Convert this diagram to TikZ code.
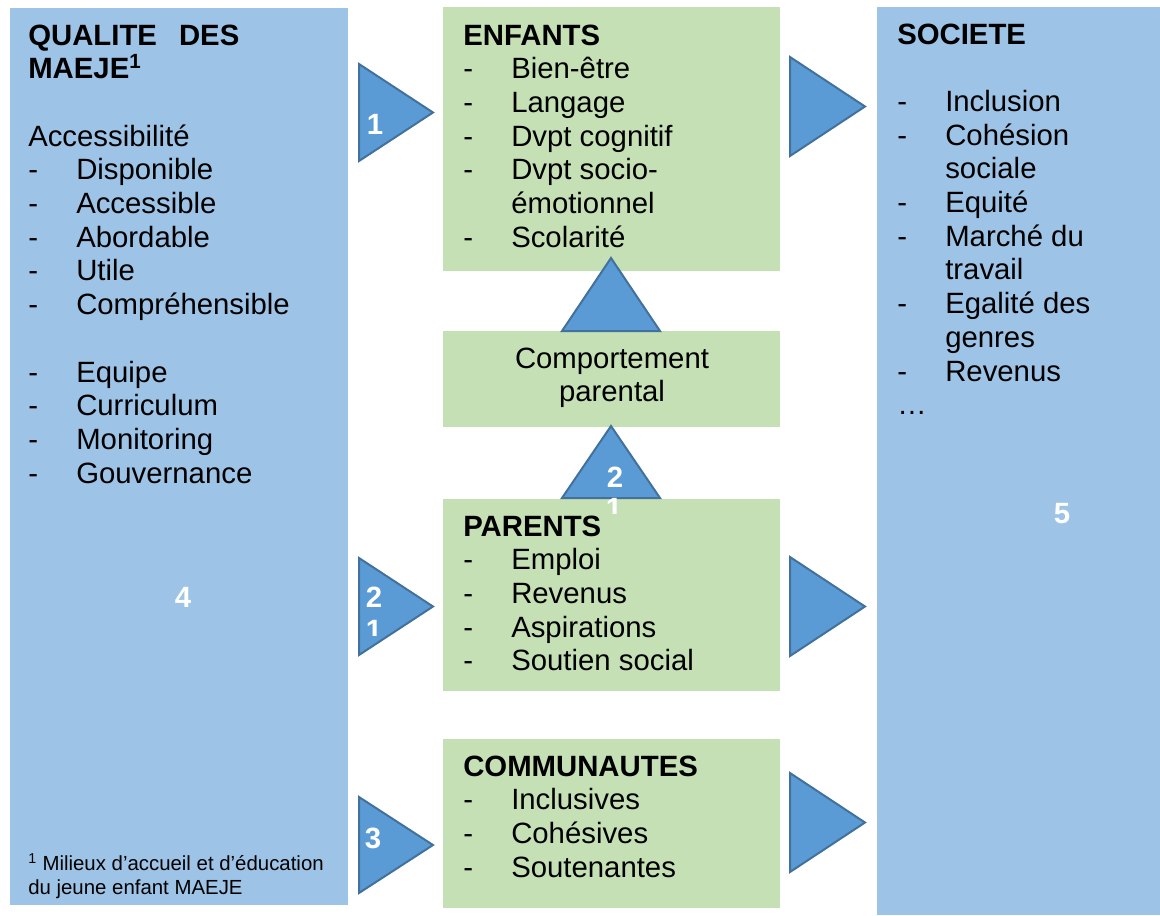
\documentclass[tikz,border=0pt]{standalone}
\usepackage{fontspec}
\setmainfont{Liberation Sans}
\definecolor{paneblue}{HTML}{9DC3E6}
\definecolor{panegreen}{HTML}{C5E0B4}
\definecolor{arrowfill}{HTML}{5B9BD5}
\definecolor{arrowline}{HTML}{41719C}
% list item: hyphen, then the text at a fixed indent
\newcommand\listitem[1]{\makebox[36pt][l]{-}#1}
\begin{document}
\begin{tikzpicture}[x=0.75pt,y=-0.75pt,
  pane/.style={rectangle, draw=none, inner sep=0pt},
  bluepane/.style={pane, fill=paneblue},
  greenpane/.style={pane, fill=panegreen},
  flow/.style={fill=arrowfill, draw=arrowline, line width=1.5pt, line join=miter},
  body/.style={font=\fontsize{22}{25.3}\selectfont, anchor=base west, inner sep=0pt},
  head/.style={body, font=\fontsize{22}{25.3}\selectfont\bfseries},
  num/.style={font=\fontsize{22}{25}\selectfont\bfseries, text=white, inner sep=0pt},
  note/.style={font=\fontsize{15.3}{18}\selectfont, anchor=base west, inner sep=0pt},
]
\useasboundingbox (0,0) rectangle (1160,915);

% panels
\node[bluepane, minimum width=253.5pt, minimum height=672.75pt] (quality) at (179,456.5) {};
\node[greenpane, minimum width=252.75pt, minimum height=198pt] (children) at (611.5,139) {};
\node[greenpane, minimum width=252.75pt, minimum height=72pt] (behaviour) at (611.5,379) {};
\node[greenpane, minimum width=252.75pt, minimum height=144pt] (parents) at (611.5,595) {};
\node[greenpane, minimum width=252.75pt, minimum height=126.75pt] (community) at (611.5,823.5) {};
\node[bluepane, minimum width=212.25pt, minimum height=681pt] (society) at (1018.5,461) {};

% triangular arrows, left column
\draw[flow] (359,64) -- (433,112.5) -- (359,161) -- cycle;
\draw[flow] (359,558) -- (433,606.5) -- (359,655) -- cycle;
\draw[flow] (359,797) -- (433,845) -- (359,893) -- cycle;
% triangular arrows, right column
\draw[flow] (790,57) -- (865,106.5) -- (790,156) -- cycle;
\draw[flow] (790,557) -- (865,606.5) -- (790,656) -- cycle;
\draw[flow] (790,773) -- (865,822.5) -- (790,872) -- cycle;
% triangular arrows, pointing up
\draw[flow] (562,331) -- (611,258) -- (660,331) -- cycle;
\draw[flow] (562,498) -- (611,426) -- (660,498) -- cycle;

% numbers (the second line of two labels is cut off by its frame)
\node[num] (n1) at (375,124) {1};
\node[num] (n2a) at (374,597) {2};
\begin{scope}
  \clip (340,560) rectangle (420,635);
  \node[num] (n2b) at (374,630) {1};
\end{scope}
\node[num] (n3) at (373,838) {3};
\node[num] (n4) at (615,477) {2};
\begin{scope}
  \clip (580,490) rectangle (650,513);
  \node[num] (n4b) at (614,508) {1};
\end{scope}
\node[num] (n5) at (183,597) {4};
\node[num] (n6) at (1062,514) {5};

% quality of early childhood settings
\foreach \t [count=\i from 0] in {
  {\bfseries QUALITE\hspace{16.5pt}DES},
  {\bfseries MAEJE\textsuperscript{1}},
  {},
  {Accessibilité},
  {\listitem{Disponible}},
  {\listitem{Accessible}},
  {\listitem{Abordable}},
  {\listitem{Utile}},
  {\listitem{Compréhensible}},
  {},
  {\listitem{Equipe}},
  {\listitem{Curriculum}},
  {\listitem{Monitoring}},
  {\listitem{Gouvernance}}}
  \node[body] (q\i) at (28,45+33.7*\i) {\t};
\node[note] (fn1) at (28,870) {\textsuperscript{1} Milieux d’accueil et d’éducation};
\node[note] (fn2) at (28,894) {du jeune enfant MAEJE};

% children
\foreach \t [count=\i from 0] in {
  {\bfseries ENFANTS},
  {\listitem{Bien-être}},
  {\listitem{Langage}},
  {\listitem{Dvpt cognitif}},
  {\listitem{Dvpt socio-}},
  {\makebox[36pt][l]{}émotionnel},
  {\listitem{Scolarité}}}
  \node[body] (c\i) at (463,45+33.7*\i) {\t};

% parental behaviour
\node[body, anchor=base] (b1) at (612,368) {Comportement};
\node[body, anchor=base] (b2) at (612,401.7) {parental};

% parents
\foreach \t [count=\i from 0] in {
  {\bfseries PARENTS},
  {\listitem{Emploi}},
  {\listitem{Revenus}},
  {\listitem{Aspirations}},
  {\listitem{Soutien social}}}
  \node[body] (p\i) at (463,536+33.7*\i) {\t};

% communities
\foreach \t [count=\i from 0] in {
  {\bfseries COMMUNAUTES},
  {\listitem{Inclusives}},
  {\listitem{Cohésives}},
  {\listitem{Soutenantes}}}
  \node[body] (m\i) at (463,776+33.7*\i) {\t};

% society
\foreach \t [count=\i from 0] in {
  {\bfseries SOCIETE},
  {},
  {\listitem{Inclusion}},
  {\listitem{Cohésion}},
  {\makebox[36pt][l]{}sociale},
  {\listitem{Equité}},
  {\listitem{Marché du}},
  {\makebox[36pt][l]{}travail},
  {\listitem{Egalité des}},
  {\makebox[36pt][l]{}genres},
  {\listitem{Revenus}},
  {…}}
  \node[body] (s\i) at (897,44+33.7*\i) {\t};
\end{tikzpicture}
\end{document}
